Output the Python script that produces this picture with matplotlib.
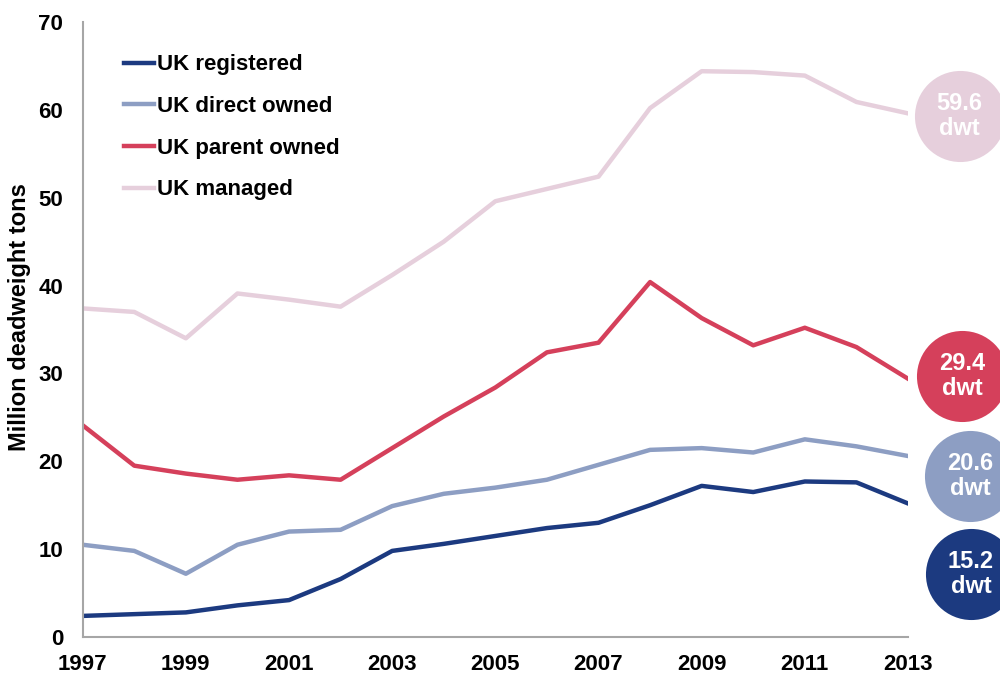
import matplotlib
matplotlib.use("Agg")
import matplotlib.pyplot as plt

years = list(range(1997, 2014))
uk_registered = [2.4, 2.6, 2.8, 3.6, 4.2, 6.6, 9.8, 10.6, 11.5, 12.4, 13.0, 15.0, 17.2, 16.5, 17.7, 17.6, 15.2]
uk_direct_owned = [10.5, 9.8, 7.2, 10.5, 12.0, 12.2, 14.9, 16.3, 17.0, 17.9, 19.6, 21.3, 21.5, 21.0, 22.5, 21.7, 20.6]
uk_parent_owned = [24.1, 19.5, 18.6, 17.9, 18.4, 17.9, 21.5, 25.1, 28.4, 32.4, 33.5, 40.4, 36.3, 33.2, 35.2, 33.0, 29.4]
uk_managed = [37.4, 37.0, 34.0, 39.1, 38.4, 37.6, 41.2, 45.0, 49.6, 51.0, 52.4, 60.2, 64.4, 64.3, 63.9, 60.9, 59.6]

series_names = ["UK registered", "UK direct owned", "UK parent owned", "UK managed"]
series_values = [uk_registered, uk_direct_owned, uk_parent_owned, uk_managed]
colors = ["#1C3A80", "#8D9EC3", "#D5405B", "#E6CFDC"]
bubble_texts = ["15.2\ndwt", "20.6\ndwt", "29.4\ndwt", "59.6\ndwt"]
# bubble layout (x in data years, y in data units)
bubble_x = [2014.22, 2014.2, 2014.05, 2014.0]
bubble_y = [7.2, 18.3, 29.7, 59.3]

xticks = list(range(1997, 2014, 2))
yticks = list(range(0, 71, 10))

plt.rcParams['font.family'] = ['Liberation Sans', 'DejaVu Sans']
fig = plt.figure(figsize=(10, 6.75), dpi=100)
ax = fig.add_axes([0.0827, 0.0563, 0.9080 - 0.0827, 0.9674 - 0.0563])

for name, vals, c in zip(series_names, series_values, colors):
    ax.plot(years, vals, color=c, lw=3.2, label=name, solid_joinstyle='round')

for bx, by, txt, c in zip(bubble_x, bubble_y, bubble_texts, colors):
    ax.scatter([bx], [by], s=4300, color=c, clip_on=False, zorder=5, linewidths=0)
    ax.text(bx, by, txt, ha='center', va='center', color='white', fontsize=17,
            fontweight='bold', zorder=6, clip_on=False, linespacing=1.1)

ax.set_xlim(1997, 2013)
ax.set_ylim(0, 70)
ax.set_xticks(xticks)
ax.set_yticks(yticks)
ax.tick_params(length=0, labelsize=16)
ax.tick_params(axis='x', pad=12)
ax.tick_params(axis='y', pad=14)
for lab in ax.get_xticklabels() + ax.get_yticklabels():
    lab.set_fontweight('bold')
for s in ['top', 'right']:
    ax.spines[s].set_visible(False)
for s in ['left', 'bottom']:
    ax.spines[s].set_color('#A6A6A6')
    ax.spines[s].set_linewidth(1.5)

ax.set_ylabel("Million deadweight tons", fontsize=17, fontweight='bold')
ax.yaxis.set_label_coords(-0.063, 0.52)

leg = ax.legend(loc='upper left', bbox_to_anchor=(0.0255, 0.98), frameon=False,
                prop={'size': 16, 'weight': 'bold'}, handlelength=1.35,
                handletextpad=0.15, labelspacing=0.93)

fig.savefig("out.png", dpi=100)
